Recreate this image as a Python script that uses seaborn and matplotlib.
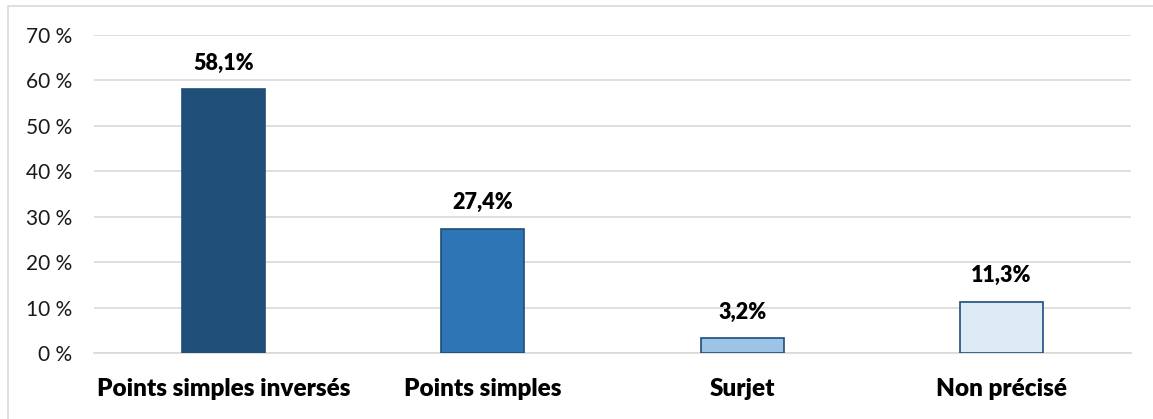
import matplotlib
matplotlib.use("Agg")
import matplotlib.pyplot as plt
import pandas as pd
import seaborn as sns
from matplotlib.patches import Rectangle

categories = ["Points simples inversés", "Points simples", "Surjet", "Non précisé"]
values = [58.1, 27.4, 3.2, 11.3]
bar_colors = ["#1F4E79", "#2E75B6", "#9DC3E6", "#DEEBF7"]
y_ticks = [0, 10, 20, 30, 40, 50, 60, 70]

sns.set_theme(style="white")
plt.rcParams["font.family"] = ["Lato", "DejaVu Sans"]

df = pd.DataFrame({"categorie": categories, "valeur": values})

fig = plt.figure(figsize=(11.53, 4.19), dpi=100)
ax = fig.add_axes([94 / 1153, 1 - 353 / 419, (1131 - 94) / 1153, (353 - 35) / 419])

sns.barplot(data=df, x="categorie", y="valeur", hue="categorie", palette=bar_colors,
            saturation=1, width=0.32, edgecolor="#1F4E79", linewidth=1.2,
            legend=False, ax=ax, zorder=3)

ax.set_ylim(0, 70)
ax.set_xlim(-0.5, 3.5)
ax.set_yticks(y_ticks)
ax.set_yticklabels([f"{t} %" for t in y_ticks], fontsize=15, color="#1a1a1a")
ax.set_xticks(range(len(categories)))
ax.set_xticklabels(categories, fontsize=17.5, fontweight="heavy", color="#000000")
ax.tick_params(axis="x", length=0, pad=18)
ax.tick_params(axis="y", length=0, pad=16)
ax.set_xlabel("")
ax.set_ylabel("")
ax.grid(axis="y", color="#D9D9D9", linewidth=1.2, zorder=0)
for s in ["top", "right", "left"]:
    ax.spines[s].set_visible(False)
ax.spines["bottom"].set_color("#D9D9D9")
ax.spines["bottom"].set_linewidth(1.2)

for i, v in enumerate(values):
    ax.annotate(f"{v:.1f}%".replace(".", ","), (i, v), xytext=(0, 11),
                textcoords="offset points", ha="center", va="bottom",
                fontsize=15.5, fontweight="heavy", color="#000000")

# cadre du graphique
fig.patches.append(Rectangle((8 / 1153, -0.05), 1.2, 1 - 6 / 419 + 0.05,
                             transform=fig.transFigure, fill=False,
                             edgecolor="#D9D9D9", linewidth=1.2))

fig.savefig("out.png", dpi=100)
